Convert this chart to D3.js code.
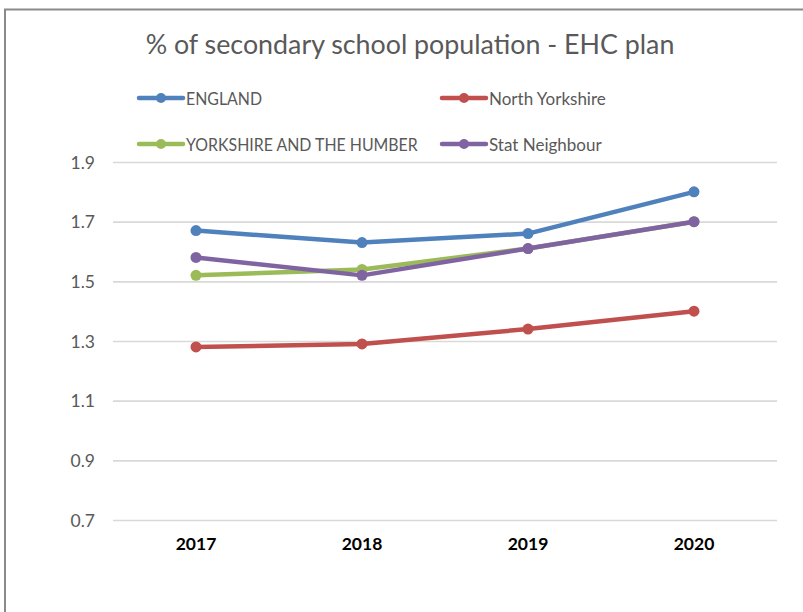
<!DOCTYPE html>
<html>
<head>
<meta charset="utf-8">
<script src="https://cdn.jsdelivr.net/npm/d3@7"></script>
<style>
  html, body { margin: 0; padding: 0; background: #fff; }
  svg { display: block; }
  text { font-family: Lato, "Open Sans", "Noto Sans", sans-serif; }
</style>
</head>
<body>
<svg id="chart" width="803" height="612"></svg>
<script>
// Categories and series (% of secondary school population with an EHC plan)
const years = ["2017", "2018", "2019", "2020"];
const england = [1.67, 1.63, 1.66, 1.80];
const northYorkshire = [1.28, 1.29, 1.34, 1.40];
const yorkshireHumber = [1.52, 1.54, 1.61, 1.70];
const statNeighbour = [1.58, 1.52, 1.61, 1.70];
const yTicks = [0.7, 0.9, 1.1, 1.3, 1.5, 1.7, 1.9];
const seriesNames = ["ENGLAND", "North Yorkshire", "YORKSHIRE AND THE HUMBER", "Stat Neighbour"];
const title = "% of secondary school population - EHC plan";

const series = [
  { name: seriesNames[0], values: england, color: "#4F81BD" },
  { name: seriesNames[1], values: northYorkshire, color: "#C0504D" },
  { name: seriesNames[2], values: yorkshireHumber, color: "#9BBB59" },
  { name: seriesNames[3], values: statNeighbour, color: "#8064A2" }
];

const svg = d3.select("#chart");
const W = 803, H = 612;
const plot = { left: 113, right: 777, top: 162, bottom: 520 };

svg.append("rect").attr("width", W).attr("height", H).attr("fill", "#fff");

// chart area frame
svg.append("rect")
  .attr("x", 5).attr("y", 9.5)
  .attr("width", W + 20).attr("height", H + 20)
  .attr("fill", "none").attr("stroke", "#8a8a8a").attr("stroke-width", 2);

const x = d3.scaleBand().domain(years).range([plot.left, plot.right]).padding(0);
const y = d3.scaleLinear().domain([0.7, 1.9]).range([plot.bottom, plot.top]);

// y axis with gridlines
const yAxis = svg.append("g")
  .attr("transform", `translate(${plot.left},0)`)
  .call(d3.axisLeft(y).tickValues(yTicks).tickFormat(d3.format(".1f"))
    .tickSize(-(plot.right - plot.left)).tickPadding(18));
yAxis.select(".domain").remove();
yAxis.selectAll(".tick line").attr("stroke", "#d9d9d9").attr("stroke-width", 1.6);
yAxis.selectAll(".tick text")
  .attr("fill", "#595959").attr("font-size", 17.5).attr("dy", "0.36em");

// x axis category labels
const xAxis = svg.append("g")
  .attr("transform", `translate(0,${plot.bottom})`)
  .call(d3.axisBottom(x).tickSize(0).tickPadding(0));
xAxis.select(".domain").remove();
xAxis.selectAll(".tick text")
  .attr("y", 30).attr("dy", 0)
  .attr("fill", "#000").attr("font-size", 17.5).attr("font-weight", "bold");

// series lines and markers
const cx = (i) => x(years[i]) + x.bandwidth() / 2;
const line = d3.line().x((d, i) => cx(i)).y(d => y(d));

const g = svg.append("g");
series.forEach(s => {
  g.append("path").datum(s.values)
    .attr("d", line).attr("fill", "none")
    .attr("stroke", s.color).attr("stroke-width", 4.5)
    .attr("stroke-linejoin", "round");
  g.selectAll(null).data(s.values).enter().append("circle")
    .attr("cx", (d, i) => cx(i)).attr("cy", d => y(d))
    .attr("r", 5.5).attr("fill", s.color);
});

// title
svg.append("text")
  .attr("x", 410).attr("y", 54)
  .attr("text-anchor", "middle")
  .attr("fill", "#595959").attr("font-size", 26.8)
  .text(title);

// legend: two rows, two columns
const legendPos = [
  { x: 139, y: 98 }, { x: 442, y: 98 },
  { x: 139, y: 144 }, { x: 442, y: 144 }
];
const lg = svg.append("g");
series.forEach((s, i) => {
  const p = legendPos[i];
  const item = lg.append("g").attr("transform", `translate(${p.x},${p.y})`);
  item.append("line").attr("x1", 0).attr("x2", 44).attr("y1", 0).attr("y2", 0)
    .attr("stroke", s.color).attr("stroke-width", 4.5).attr("stroke-linecap", "round");
  item.append("circle").attr("cx", 22).attr("cy", 0).attr("r", 5).attr("fill", s.color);
  const t = item.append("text").attr("x", 47).attr("y", 6.5)
    .attr("fill", "#595959").attr("font-size", 17)
    .text(s.name);
  // capital-letter labels run narrower in the original typeface
  if (s.name === s.name.toUpperCase()) {
    const w = t.node().getComputedTextLength();
    t.attr("textLength", w * 0.935).attr("lengthAdjust", "spacingAndGlyphs");
  }
});
</script>
</body>
</html>
